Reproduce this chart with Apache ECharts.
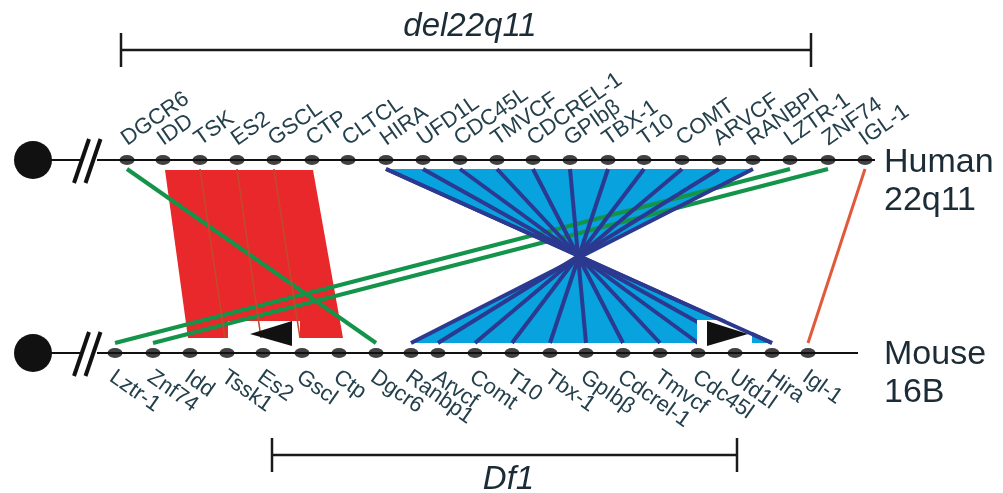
<!DOCTYPE html>
<html>
<head>
<meta charset="utf-8">
<script src="https://cdn.jsdelivr.net/npm/echarts@6/dist/echarts.min.js"></script>
<style>
  html, body { margin: 0; padding: 0; background: #ffffff; }
  #chart { width: 1003px; height: 493px; }
</style>
</head>
<body>
<div id="chart"></div>
<script>
// Gene order along human 22q11 and mouse 16B (map positions along the chromosome axis)
const humanGenes = ['DGCR6', 'IDD', 'TSK', 'ES2', 'GSCL', 'CTP', 'CLTCL', 'HIRA', 'UFD1L', 'CDC45L', 'TMVCF',
  'CDCREL-1', 'GPIbβ', 'TBX-1', 'T10', 'COMT', 'ARVCF', 'RANBPI', 'LZTR-1', 'ZNF74', 'IGL-1'];
const humanPos = [127, 163, 200, 237, 274, 312, 348, 386, 423, 460, 497, 533, 570, 608, 644, 682, 719, 753, 790, 828, 865];

const mouseGenes = ['Lztr-1', 'Znf74', 'Idd', 'Tssk1', 'Es2', 'Gscl', 'Ctp', 'Dgcr6', 'Ranbp1', 'Arvcf', 'Comt',
  'T10', 'Tbx-1', 'GpIbβ', 'Cdcrel-1', 'Tmvcf', 'Cdc45l', 'Ufd1l', 'Hira', 'Igl-1'];
const mousePos = [115, 153, 190, 227, 263, 302, 339, 376, 411, 438, 475, 512, 550, 586, 623, 660, 698, 735, 772, 808];

// Chromosome extents (end of drawn segment on the map axis)
const chromosomes = [
  { name: 'Human', band: '22q11', end: 875 },
  { name: 'Mouse', band: '16B', end: 858 }
];

// Orthologous pairs [human, mouse]
const redBlock = [['IDD', 'Idd'], ['TSK', 'Tssk1'], ['ES2', 'Es2'], ['GSCL', 'Gscl'], ['CTP', 'Ctp']];
const greenLinks = [['DGCR6', 'Dgcr6'], ['LZTR-1', 'Lztr-1'], ['ZNF74', 'Znf74']];
const orangeLinks = [['IGL-1', 'Igl-1']];
const blueLinks = [['HIRA', 'Hira'], ['UFD1L', 'Ufd1l'], ['CDC45L', 'Cdc45l'], ['TMVCF', 'Tmvcf'],
  ['CDCREL-1', 'Cdcrel-1'], ['GPIbβ', 'GpIbβ'], ['TBX-1', 'Tbx-1'], ['T10', 'T10'], ['COMT', 'Comt'],
  ['ARVCF', 'Arvcf'], ['RANBPI', 'Ranbp1']];

// Orientation arrows on the mouse side: [from gene, to gene, direction]
const orientations = [['Tssk1', 'Gscl', -1], ['Cdc45l', 'Hira', 1]];

// Deletion spans on the map axis
const spanNames = ['del22q11', 'Df1'];
const spanFrom = [121, 272];
const spanTo = [811, 737];

// ---- layout constants ----
const HUMAN_Y = 160, MOUSE_Y = 353;
const LINK_TOP = 169, LINK_BOT = 343;
const CEN_X = 33;
const FONT = "'Liberation Sans', Arial, Helvetica, sans-serif";
const LABEL_COLOR = '#24404c';
const TITLE_COLOR = '#1b2c36';
const C_RED = '#e8282a', C_RED_DIV = '#c24a2c', C_GREEN = '#13944a', C_ORANGE = '#e2593a';
const C_LIGHTBLUE = '#08a2de', C_NAVY = '#2b3990';
const GENE_FONT = '22px ' + FONT;
const GENE_ROT = 35 * Math.PI / 180;

const hx = n => humanPos[humanGenes.indexOf(n)];
const mx = n => mousePos[mouseGenes.indexOf(n)];

function seg(api, a, b, stroke, lineWidth) {
  const p = api.coord(a), q = api.coord(b);
  return { type: 'line', shape: { x1: p[0], y1: p[1], x2: q[0], y2: q[1] }, style: { stroke, lineWidth, lineCap: 'butt' } };
}
function poly(api, pts, fill) {
  return { type: 'polygon', shape: { points: pts.map(p => api.coord(p)) }, style: { fill } };
}
function intersect(a1, a2, b1, b2) {
  const d = (a1[0] - a2[0]) * (b1[1] - b2[1]) - (a1[1] - a2[1]) * (b1[0] - b2[0]);
  const t = ((a1[0] - b1[0]) * (b1[1] - b2[1]) - (a1[1] - b1[1]) * (b1[0] - b2[0])) / d;
  return [a1[0] + t * (a2[0] - a1[0]), a1[1] + t * (a2[1] - a1[1])];
}

function renderLinks(params, api) {
  const kids = [];
  // inverted block: light blue bow-tie
  const first = blueLinks[0], last = blueLinks[blueLinks.length - 1];
  const a1 = [hx(first[0]), LINK_TOP], a2 = [mx(first[1]), LINK_BOT];
  const b1 = [hx(last[0]), LINK_TOP], b2 = [mx(last[1]), LINK_BOT];
  const X = intersect(a1, a2, b1, b2);
  kids.push(poly(api, [a1, b1, X], C_LIGHTBLUE));
  kids.push(poly(api, [b2, a2, X], C_LIGHTBLUE));

  // conserved block in same orientation: red band
  const r0 = redBlock[0], rN = redBlock[redBlock.length - 1];
  kids.push(poly(api, [[hx(r0[0]) + 2, LINK_TOP + 1], [hx(rN[0]) + 1, LINK_TOP + 1],
    [mx(rN[1]) + 4, LINK_BOT - 5], [mx(r0[1]) - 2, LINK_BOT - 5]], C_RED));

  // notch under the red band for its orientation arrow
  const o0 = orientations[0];
  kids.push(poly(api, [[mx(o0[0]) + 1, 321], [mx(o0[1]) - 2, 321], [mx(o0[1]) - 2, 347], [mx(o0[0]) + 1, 347]], '#ffffff'));

  // conserved single genes
  greenLinks.forEach(l => kids.push(seg(api, [hx(l[0]), LINK_TOP], [mx(l[1]), LINK_BOT], C_GREEN, 4)));

  // dividers inside the red band
  redBlock.slice(1, -1).forEach(l => kids.push(seg(api, [hx(l[0]), LINK_TOP], [mx(l[1]) - 2, LINK_BOT - 5], C_RED_DIV, 1.6)));

  // inverted genes
  blueLinks.forEach(l => kids.push(seg(api, [hx(l[0]), LINK_TOP], [mx(l[1]), LINK_BOT], C_NAVY, 4)));

  // notch at the bottom of the inverted block
  const o1 = orientations[1];
  kids.push(poly(api, [[mx(o1[0]) - 1, 320], [mx(o1[1]) - 20, 320], [mx(o1[1]) - 20, 347], [mx(o1[0]) - 1, 347]], '#ffffff'));
  kids.push(seg(api, a1, a2, C_NAVY, 4));

  // orientation arrows
  orientations.forEach(o => {
    const lo = mx(o[0]), hi = mx(o[1]);
    let tip, base;
    if (o[2] < 0) { tip = lo + 23; base = hi - 10; } else { base = lo + 9; tip = lo + 50; }
    kids.push(poly(api, [[tip, 334], [base, 321], [base, 346]], '#111111'));
  });

  orangeLinks.forEach(l => kids.push(seg(api, [hx(l[0]), LINK_TOP], [mx(l[1]), LINK_BOT], C_ORANGE, 3)));
  return { type: 'group', children: kids };
}

function renderChromosomes(params, api) {
  const kids = [];
  const labelX = api.coord([Math.max(...chromosomes.map(c => c.end)), 0])[0] + 9;
  chromosomes.forEach((c, i) => {
    const y = i === 0 ? HUMAN_Y : MOUSE_Y;
    const cen = api.coord([CEN_X, y]);
    const breakA = api.coord([80, y]), breakB = api.coord([97, y]);
    const endP = api.coord([c.end, y]);
    kids.push({ type: 'circle', shape: { cx: cen[0], cy: cen[1], r: 19 }, style: { fill: '#111111' } });
    kids.push({ type: 'line', shape: { x1: cen[0], y1: cen[1], x2: breakA[0], y2: breakA[1] }, style: { stroke: '#111', lineWidth: 2 } });
    kids.push({ type: 'line', shape: { x1: breakB[0], y1: breakB[1], x2: endP[0], y2: endP[1] }, style: { stroke: '#111', lineWidth: 2 } });
    [81.5, 93].forEach(bx => {
      const p = api.coord([bx, y]);
      kids.push({ type: 'line', shape: { x1: p[0] - 7.5, y1: p[1] + 23, x2: p[0] + 7.5, y2: p[1] - 21 }, style: { stroke: '#111', lineWidth: 4 } });
    });
    const top = endP[1] + (i === 0 ? -14 : -15);
    kids.push({ type: 'text', x: labelX, y: top,
      style: { text: c.name, fill: TITLE_COLOR, font: '34px ' + FONT, align: 'left', verticalAlign: 'top' } });
    kids.push({ type: 'text', x: labelX, y: top + 38,
      style: { text: c.band, fill: TITLE_COLOR, font: '34px ' + FONT, align: 'left', verticalAlign: 'top' } });
  });
  return { type: 'group', children: kids };
}

function renderGeneLabels(params, api) {
  const kids = [];
  humanGenes.forEach((g, i) => {
    const p = api.coord([humanPos[i], HUMAN_Y]);
    kids.push({ type: 'text', x: p[0] + 3, y: p[1] - 10, rotation: GENE_ROT,
      style: { text: g, fill: LABEL_COLOR, font: GENE_FONT, align: 'left', verticalAlign: 'bottom' } });
  });
  mouseGenes.forEach((g, i) => {
    const p = api.coord([mousePos[i], MOUSE_Y]);
    kids.push({ type: 'text', x: p[0] + 3, y: p[1] + 13, rotation: -GENE_ROT,
      style: { text: g, fill: LABEL_COLOR, font: GENE_FONT, align: 'left', verticalAlign: 'top' } });
  });
  return { type: 'group', children: kids };
}

function renderSpans(params, api) {
  const kids = [];
  const ys = [50, 455];
  spanNames.forEach((name, i) => {
    const y = ys[i];
    const a = api.coord([spanFrom[i], y]), b = api.coord([spanTo[i], y]);
    kids.push({ type: 'line', shape: { x1: a[0], y1: a[1], x2: b[0], y2: b[1] }, style: { stroke: '#1a1a1a', lineWidth: 2.5 } });
    [a, b].forEach(p => kids.push({ type: 'line', shape: { x1: p[0], y1: p[1] - 17, x2: p[0], y2: p[1] + 17 }, style: { stroke: '#1a1a1a', lineWidth: 2.5 } }));
    const cx = (a[0] + b[0]) / 2;
    kids.push({ type: 'text', x: cx + 4, y: i === 0 ? a[1] - 7 : a[1] + 41,
      style: { text: name, fill: TITLE_COLOR, font: 'italic 33px ' + FONT, align: 'center', verticalAlign: 'bottom' } });
  });
  return { type: 'group', children: kids };
}

const chart = echarts.init(document.getElementById('chart'), null, { renderer: 'canvas' });
chart.setOption({
  backgroundColor: '#ffffff',
  animation: false,
  grid: { left: 0, right: 0, top: 0, bottom: 0 },
  xAxis: { type: 'value', min: 0, max: 1003, show: false },
  yAxis: { type: 'value', min: 0, max: 493, inverse: true, show: false },
  series: [
    { type: 'custom', renderItem: renderLinks, data: [0], silent: true, z: 1 },
    { type: 'custom', renderItem: renderChromosomes, data: [0], silent: true, z: 2 },
    {
      type: 'scatter', symbol: 'circle', symbolSize: [15, 10], itemStyle: { color: '#111111' }, z: 3, silent: true,
      data: humanPos.map(x => [x, HUMAN_Y]).concat(mousePos.map(x => [x, MOUSE_Y]))
    },
    { type: 'custom', renderItem: renderGeneLabels, data: [0], silent: true, z: 4 },
    { type: 'custom', renderItem: renderSpans, data: [0], silent: true, z: 4 }
  ]
});
</script>
</body>
</html>
